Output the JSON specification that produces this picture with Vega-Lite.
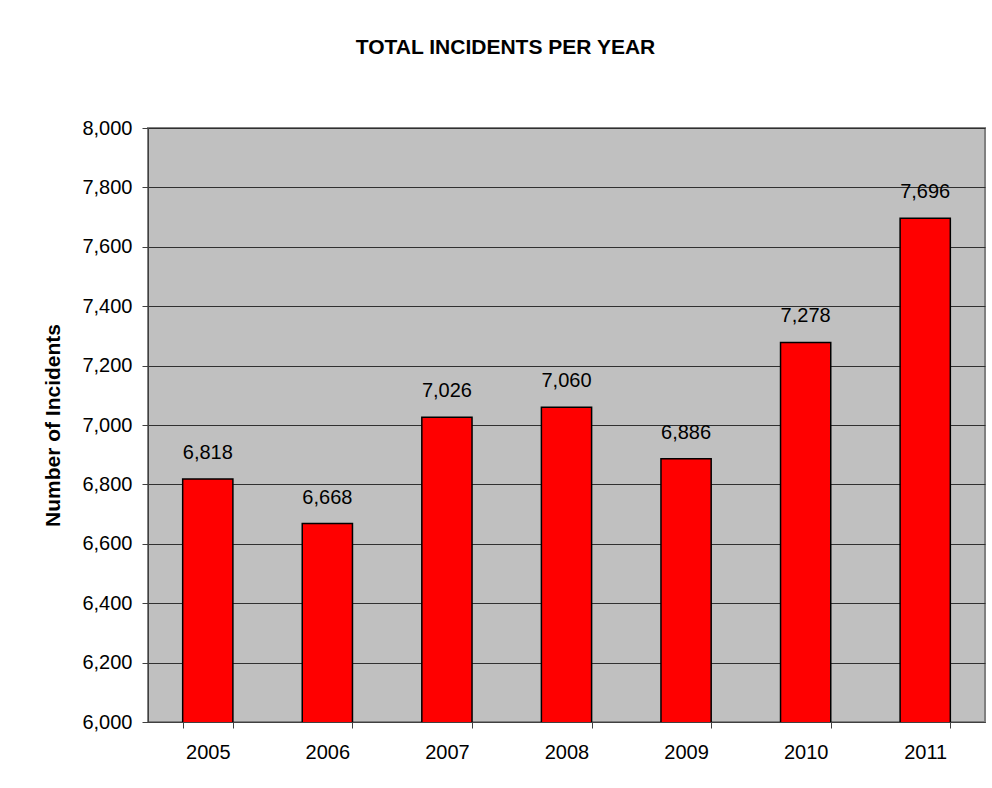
{
  "$schema": "https://vega.github.io/schema/vega-lite/v6.json",
  "width": 837,
  "height": 594,
  "autosize": {"type": "none"},
  "padding": {"left": 148, "top": 128, "right": 7, "bottom": 66},
  "background": "white",
  "title": {
    "text": "TOTAL INCIDENTS PER YEAR",
    "font": "Liberation Sans",
    "fontSize": 21,
    "fontWeight": "bold",
    "color": "black",
    "anchor": "middle",
    "dx": -61,
    "offset": 60
  },
  "data": {
    "values": [
      {"year": "2005", "incidents": 6818},
      {"year": "2006", "incidents": 6668},
      {"year": "2007", "incidents": 7026},
      {"year": "2008", "incidents": 7060},
      {"year": "2009", "incidents": 6886},
      {"year": "2010", "incidents": 7278},
      {"year": "2011", "incidents": 7696}
    ]
  },
  "encoding": {
    "x": {
      "field": "year",
      "type": "ordinal",
      "scale": {"paddingInner": 0.58, "paddingOuter": 0.29},
      "axis": {
        "title": null,
        "labelAngle": 0,
        "labelFont": "Liberation Sans",
        "labelFontSize": 20,
        "labelColor": "black",
        "labelPadding": 14,
        "tickBand": "extent",
        "tickSize": 6,
        "tickColor": "#404040",
        "domainColor": "#404040",
        "grid": false
      }
    },
    "y": {
      "field": "incidents",
      "type": "quantitative",
      "scale": {"domain": [6000, 8000], "nice": false, "zero": false},
      "axis": {
        "title": "Number of Incidents",
        "titleFont": "Liberation Sans",
        "titleFontSize": 21,
        "titleFontWeight": "bold",
        "titleColor": "black",
        "titlePadding": 18,
        "values": [6000, 6200, 6400, 6600, 6800, 7000, 7200, 7400, 7600, 7800, 8000],
        "format": ",d",
        "labelFont": "Liberation Sans",
        "labelFontSize": 20,
        "labelColor": "black",
        "labelPadding": 10,
        "tickSize": 6,
        "tickColor": "#404040",
        "domainColor": "#404040",
        "grid": true,
        "gridColor": "#303030",
        "gridWidth": 1
      }
    }
  },
  "layer": [
    {
      "mark": {"type": "bar", "color": "#FF0000", "stroke": "black", "strokeWidth": 1.5, "clip": true}
    },
    {
      "mark": {"type": "text", "dy": -26, "font": "Liberation Sans", "fontSize": 20, "color": "black"},
      "encoding": {
        "text": {"field": "incidents", "type": "quantitative", "format": ",d"}
      }
    }
  ],
  "config": {
    "view": {"fill": "#C0C0C0", "stroke": "#808080", "strokeWidth": 2}
  }
}
